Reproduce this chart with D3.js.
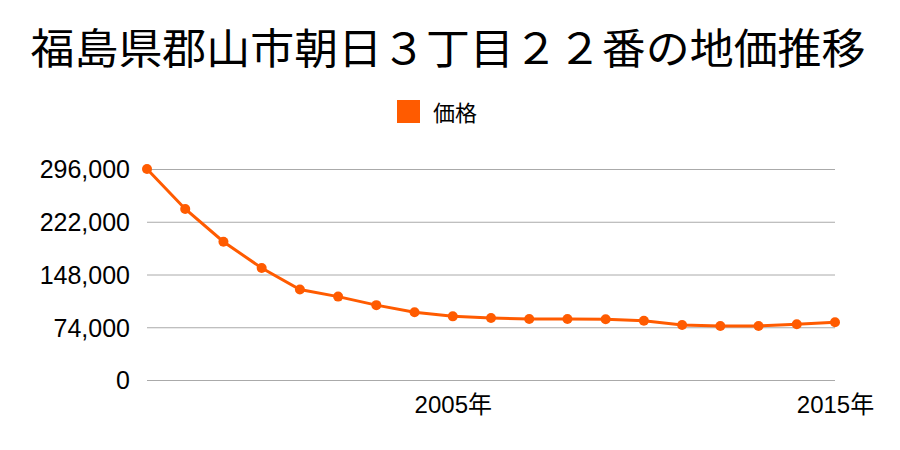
<!DOCTYPE html>
<html><head><meta charset="utf-8">
<script src="https://cdn.jsdelivr.net/npm/d3@7"></script>
<style>body{margin:0;background:#fff}svg{display:block}</style>
</head><body>
<svg id="c" width="900" height="450"></svg>
<script>
const years = [1997,1998,1999,2000,2001,2002,2003,2004,2005,2006,2007,2008,2009,2010,2011,2012,2013,2014,2015];
const prices = [296000,240000,194000,157000,127000,117000,105000,95000,89300,87000,85600,85600,85100,83200,77200,75800,75800,78100,81000];
const yTicks = [0,74000,148000,222000,296000];
const xTicks = [2005,2015];
const title = "福島県郡山市朝日３丁目２２番の地価推移";
const seriesName = "価格";

const svg = d3.select("#c");
const font = "'Noto Sans CJK JP','Noto Sans',sans-serif";
const numFont = "'Liberation Sans','Noto Sans CJK JP',sans-serif";
const color = "#ff5b00";
const x = d3.scaleLinear().domain([1997,2015]).range([147,835]);
const y = d3.scaleLinear().domain([0,296000]).range([380,169]);

svg.append("text").attr("x",448).attr("y",45).attr("text-anchor","middle")
  .attr("dominant-baseline","central").attr("font-family",font).attr("font-size",42)
  .attr("textLength",835).attr("lengthAdjust","spacingAndGlyphs").attr("fill","#000").text(title);

svg.append("rect").attr("x",397).attr("y",100).attr("width",23).attr("height",23).attr("fill",color);
svg.append("text").attr("x",433).attr("y",111).attr("dominant-baseline","central")
  .attr("font-family",font).attr("font-size",22).attr("fill","#000").text(seriesName);

const yAxis = d3.axisLeft(y).tickValues(yTicks).tickSize(-(835-147)).tickPadding(17).tickFormat(d3.format(","));
const gy = svg.append("g").attr("transform","translate(147,0)").call(yAxis);
gy.select(".domain").remove();
gy.selectAll(".tick line").attr("stroke","#aaa").attr("stroke-width",1);
gy.selectAll(".tick text").attr("font-family",numFont).attr("font-size",25).attr("fill","#000").attr("dy","0.35em");

const xAxis = d3.axisBottom(x).tickValues(xTicks).tickSize(0).tickPadding(0).tickFormat(d=>d+"年");
const gx = svg.append("g").attr("transform","translate(0,380)").call(xAxis);
gx.select(".domain").remove();
gx.selectAll(".tick text").attr("font-family",numFont).attr("font-size",24).attr("fill","#000")
  .attr("dy",null).attr("y",33);

const data = years.map((yr,i)=>({yr, v:prices[i]}));
svg.append("path").datum(data).attr("fill","none").attr("stroke",color).attr("stroke-width",3)
  .attr("d",d3.line().x(d=>x(d.yr)).y(d=>y(d.v)));
svg.selectAll("circle.pt").data(data).enter().append("circle").attr("class","pt")
  .attr("cx",d=>x(d.yr)).attr("cy",d=>y(d.v)).attr("r",5).attr("fill",color);
</script>
</body></html>
